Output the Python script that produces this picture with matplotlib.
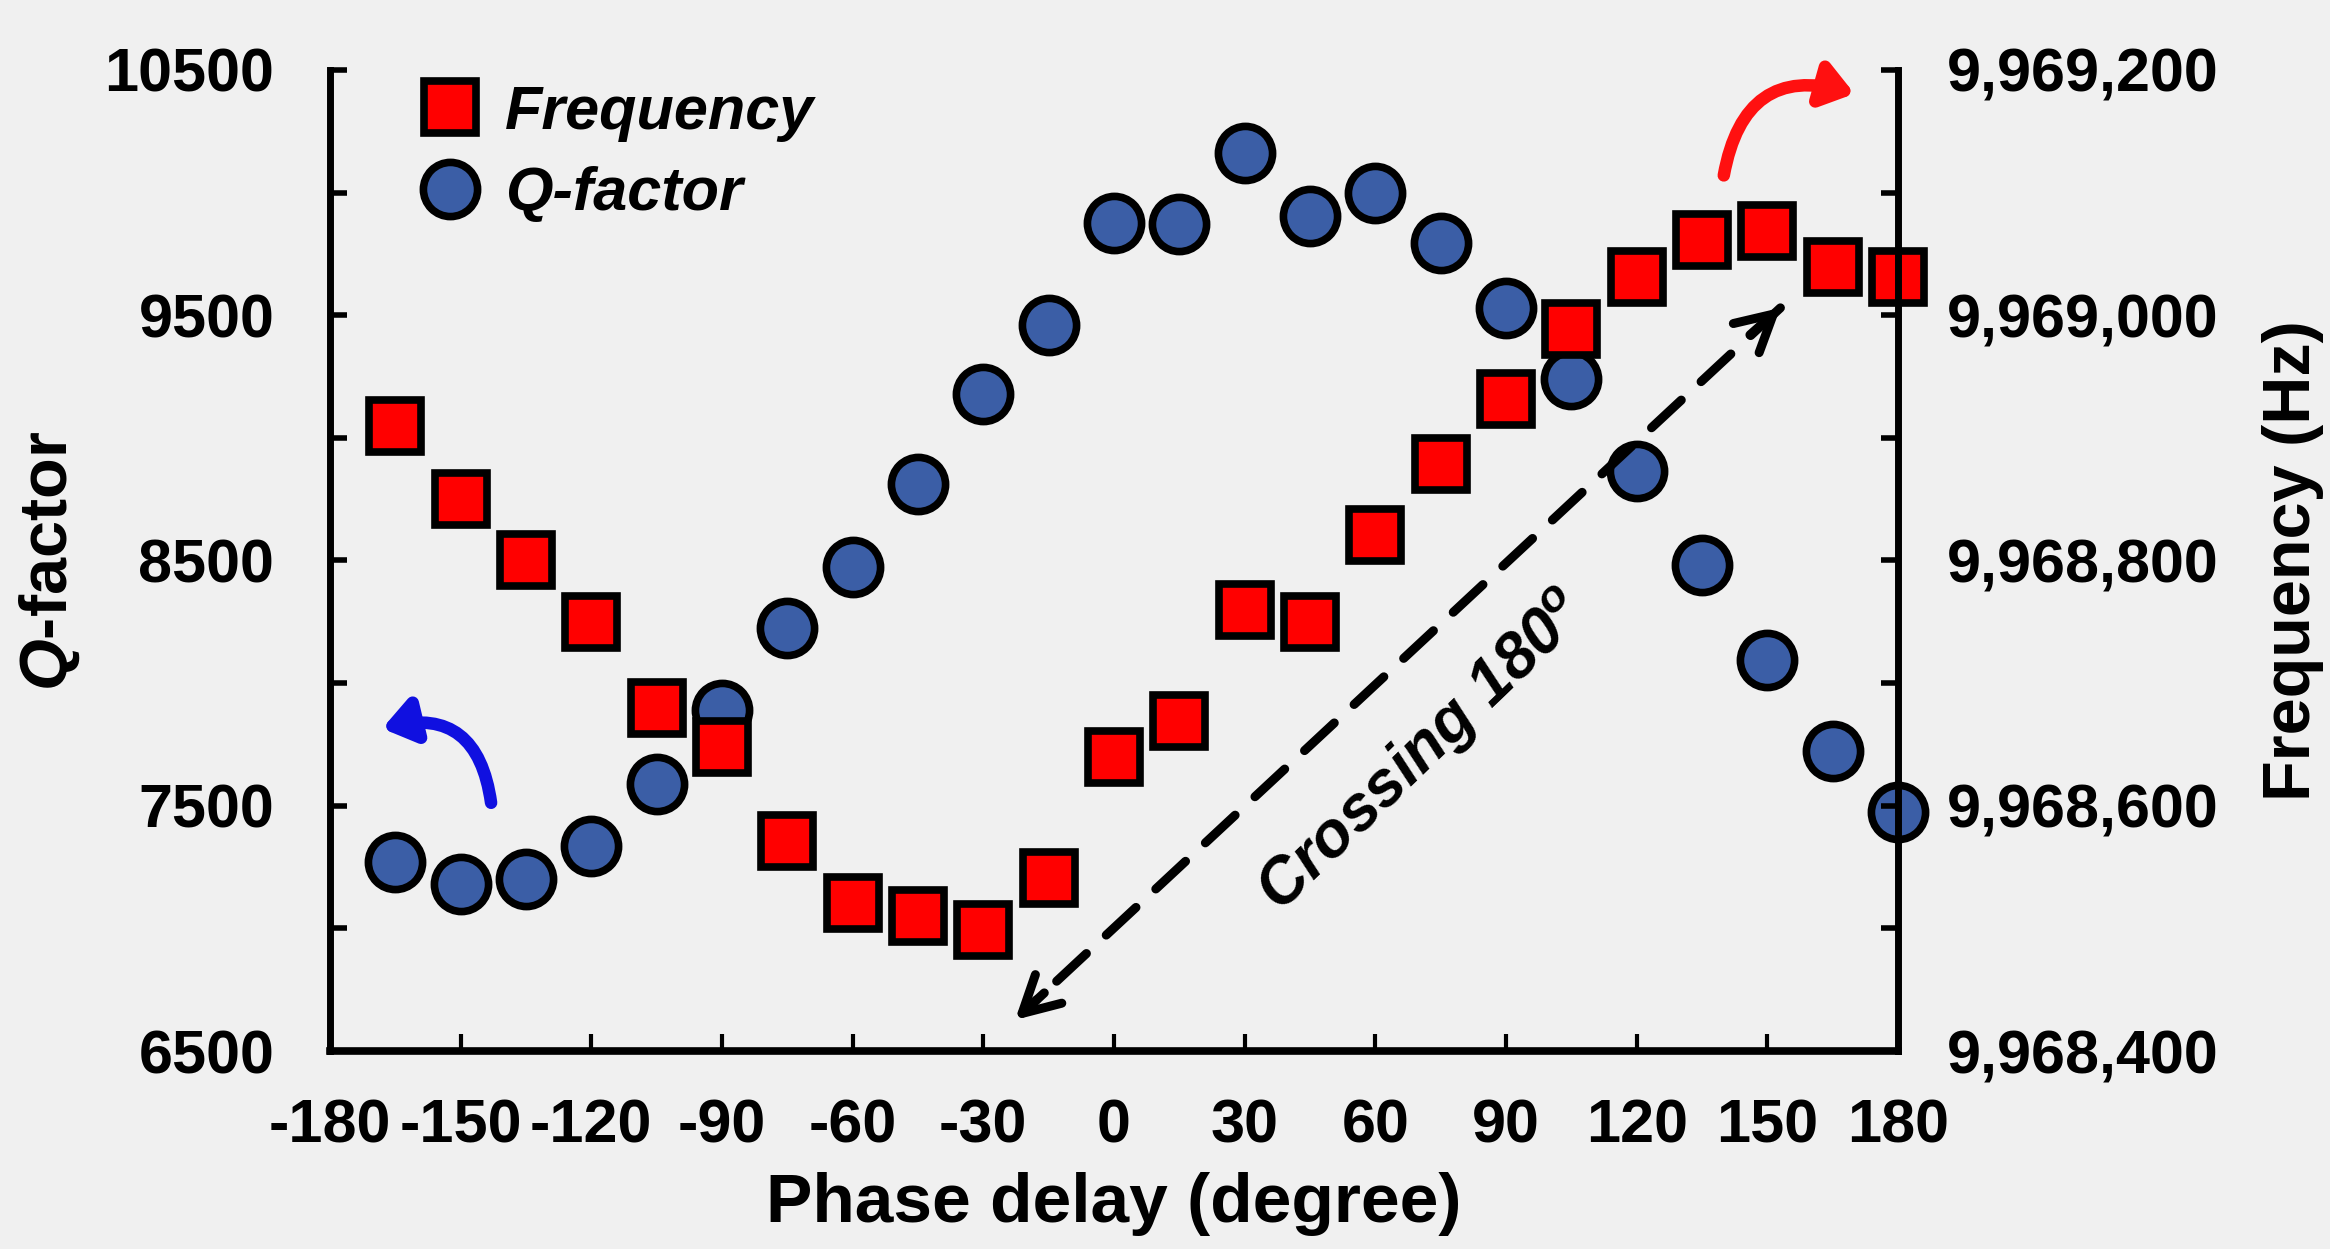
import numpy as np
import matplotlib
matplotlib.use('Agg')
import matplotlib.pyplot as plt
from matplotlib.ticker import MultipleLocator, FuncFormatter
from matplotlib.patches import FancyArrowPatch

plt.rcParams['font.family'] = ['Liberation Sans', 'DejaVu Sans']
plt.rcParams['font.weight'] = 'bold'
plt.rcParams['axes.unicode_minus'] = False
plt.rcParams['mathtext.fontset'] = 'custom'
plt.rcParams['mathtext.it'] = 'Liberation Sans:bold:italic'
plt.rcParams['mathtext.rm'] = 'Liberation Sans:bold'

# Phase delay (degree)
phase = [-165, -150, -135, -120, -105, -90, -75, -60, -45, -30, -15, 0,
         15, 30, 45, 60, 75, 90, 105, 120, 135, 150, 165, 180]

# Q-factor (left axis)
qfactor = [7270, 7180, 7200, 7335, 7590, 7890, 8225, 8475, 8810, 9180, 9460, 9875,
           9870, 10160, 9905, 10000, 9795, 9530, 9240, 8865, 8480, 8095, 7725, 7475]

# Frequency in Hz (right axis)
frequency = [9968910, 9968850, 9968800, 9968750, 9968680, 9968648, 9968571, 9968521,
             9968510, 9968499, 9968541, 9968640, 9968669, 9968760, 9968750, 9968821,
             9968879, 9968932, 9968989, 9969031, 9969061, 9969069, 9969039, 9969031]

bg = '#f0f0f0'
fig = plt.figure(figsize=(23.3, 12.49), dpi=100, facecolor=bg)
ax = fig.add_axes([0.1416, 0.1585, 0.673, 0.7855])
ax.set_facecolor(bg)
ax2 = ax.twinx()
ax2.patch.set_visible(False)

ax.plot(phase, qfactor, 'o', ms=39, mfc='#3b5ea6', mec='black', mew=5.5,
        label='Q-factor', clip_on=False)
ax2.plot(phase, frequency, 's', ms=38, mfc='#ff0000', mec='black', mew=5.5,
         label='Frequency', clip_on=False)

ax.set_xlim(-180, 180)
ax.set_ylim(6500, 10500)
ax2.set_ylim(9968400, 9969200)

ax.set_xticks(np.arange(-180, 181, 30))
ax.set_yticks(np.arange(6500, 10501, 1000))
ax.yaxis.set_minor_locator(MultipleLocator(500))
ax2.set_yticks(np.arange(9968400, 9969201, 200))
ax2.yaxis.set_minor_locator(MultipleLocator(100))
ax2.yaxis.set_major_formatter(FuncFormatter(lambda v, p: f'{v:,.0f}'))

for s in ['top', 'right']:
    ax.spines[s].set_visible(False)
for s in ['top', 'left', 'bottom']:
    ax2.spines[s].set_visible(False)
ax.spines['left'].set_linewidth(5)
ax.spines['bottom'].set_linewidth(5.5)
ax2.spines['right'].set_linewidth(5)

ax.tick_params(axis='x', which='both', direction='in', length=12, width=3, labelsize=44, pad=34)
ax.tick_params(axis='y', which='both', direction='in', length=12, width=4, labelsize=44, pad=40)
ax2.tick_params(axis='y', which='both', direction='in', length=12, width=4, labelsize=44, pad=35)

ax.set_xlabel('Phase delay (degree)', fontsize=50, fontweight='bold', labelpad=12)
ax.set_ylabel(r'$Q$-factor', fontsize=48, fontweight='bold')
ax.yaxis.set_label_coords(-0.158, 0.5)
ax2.set_ylabel('Frequency (Hz)', fontsize=48, fontweight='bold')
ax2.yaxis.set_label_coords(1.232, 0.5)

h1, l1 = ax.get_legend_handles_labels()
h2, l2 = ax2.get_legend_handles_labels()
ax2.legend(h2 + h1, l2 + l1, loc='upper left', bbox_to_anchor=(0.057, 0.985),
           frameon=False, handlelength=1.0, handletextpad=0.4, borderpad=0,
           borderaxespad=0, labelspacing=0.4,
           prop={'size': 44, 'weight': 'bold', 'style': 'italic'})

# dashed double arrow: dashed shaft plus solid heads at both ends
a_start = (-22.7, 6627)
a_end = (153, 9530)
ax.annotate('', xy=a_start, xytext=a_end,
            arrowprops=dict(arrowstyle='-', lw=6.5, ls=(0, (4.5, 3)), color='black',
                            shrinkA=0, shrinkB=10))
head = dict(arrowstyle='->,head_length=1.3,head_width=0.7', lw=6.5, mutation_scale=20,
            color='black', shrinkA=0, shrinkB=0)
ax.annotate('', xy=a_start, xytext=(-16, 6737), arrowprops=head)
ax.annotate('', xy=a_end, xytext=(146, 9420), arrowprops=head)
ax.text(71, 7720, r'Crossing 180$^{o}$', fontsize=46, fontweight='bold', style='italic',
        rotation=44, ha='center', va='center', rotation_mode='anchor')

# curved arrows pointing to the axes
ax.add_patch(FancyArrowPatch((-143, 7512), (-168, 7815), connectionstyle='arc3,rad=0.55',
                             arrowstyle='-|>,head_length=18,head_width=13', lw=9, color='#1010e0',
                             shrinkA=0, shrinkB=0))
ax.add_patch(FancyArrowPatch((140, 10070), (170, 10403), connectionstyle='arc3,rad=-0.55',
                             arrowstyle='-|>,head_length=18,head_width=13', lw=9, color='#ff1010',
                             shrinkA=0, shrinkB=0, clip_on=False))

fig.savefig('out.png', dpi=100, facecolor=bg)
